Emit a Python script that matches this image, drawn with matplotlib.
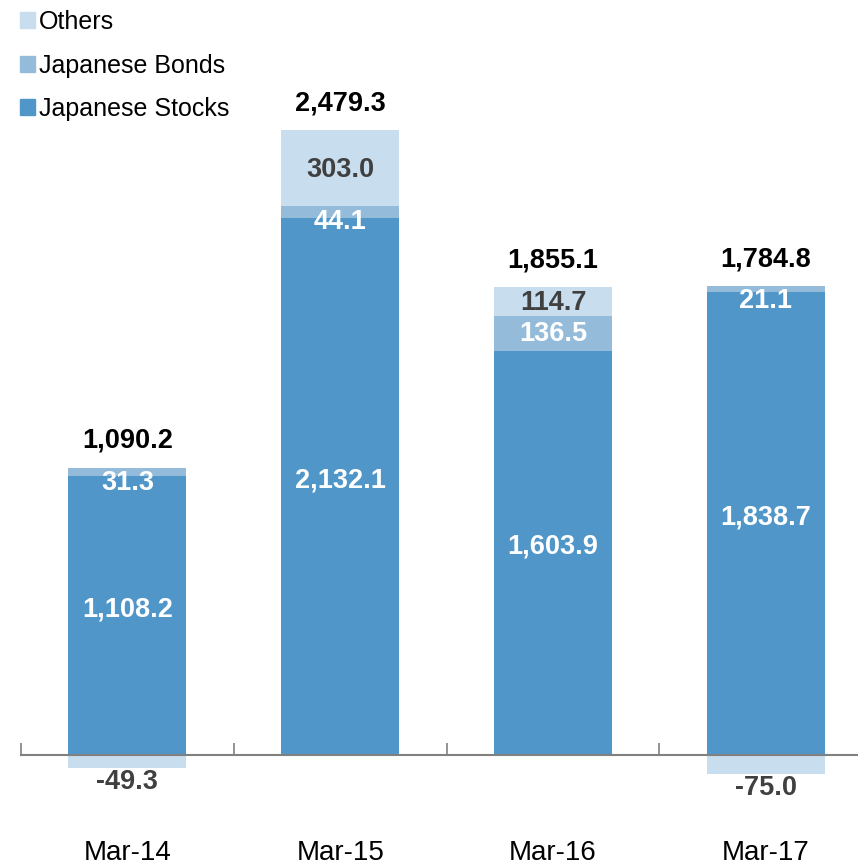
import numpy as np
import matplotlib.pyplot as plt
from matplotlib.patches import Patch

plt.rcParams['font.family'] = ['Liberation Sans', 'DejaVu Sans']

# DATA

periods = ['Mar-14', 'Mar-15', 'Mar-16', 'Mar-17']
stocks = np.array([1108.2, 2132.1, 1603.9, 1838.7])
bonds = np.array([31.3, 44.1, 136.5, 21.1])
others = np.array([-49.3, 303.0, 114.7, -75.0])
totals = ['1,090.2', '2,479.3', '1,855.1', '1,784.8']

c_stocks = '#5096C8'
c_bonds = '#94BCDA'
c_others = '#C8DDED'

# PLOT

fig = plt.figure(figsize=(8.58, 8.66), dpi=100)
ax = fig.add_axes([21 / 858, 0, 1 - 21 / 858, 1])

x = np.arange(len(periods))
w = 0.555

ax.bar(x, stocks, w, color=c_stocks, label='Japanese Stocks')
ax.bar(x, bonds, w, bottom=stocks, color=c_bonds, label='Japanese Bonds')
# others sit on top when positive, below zero when negative
oth_bottom = np.where(others > 0, stocks + bonds, 0)
ax.bar(x, others, w, bottom=oth_bottom, color=c_others, label='Others')

lab = dict(fontsize=19.5, fontweight='bold', ha='center')

for i in range(len(x)):
    # stocks
    ax.text(x[i], stocks[i] / 2 + 24, f'{stocks[i]:,.1f}', color='white', va='center', **lab)
    # bonds (small ones get pushed below the segment top)
    top = stocks[i] + bonds[i]
    yb = min(stocks[i] + bonds[i] / 2, top - 60)
    ax.text(x[i], yb, f'{bonds[i]:,.1f}', color='white', va='center', **lab)
    # others
    if others[i] > 0:
        ax.text(x[i], oth_bottom[i] + others[i] / 2 - 6, f'{others[i]:,.1f}',
                color='#404040', va='center', **lab)
        pos_top = oth_bottom[i] + others[i]
    else:
        ax.text(x[i], others[i] - 5, f'{others[i]:,.1f}', color='#404040', va='top', **lab)
        pos_top = top
    # total
    ax.annotate(totals[i], (x[i], pos_top), xytext=(0, 10), textcoords='offset points',
                va='bottom', color='black', **lab)

ax.set_xlim(-0.5, 3.433)
ax.set_ylim(-440, 2995)

for s in ['top', 'right', 'left']:
    ax.spines[s].set_visible(False)
ax.spines['bottom'].set_position(('data', 0))
ax.spines['bottom'].set_color('#808080')
ax.spines['bottom'].set_linewidth(1.5)
ax.set_yticks([])

ax.set_xticks(x)
ax.set_xticklabels(periods, fontsize=20)
ax.set_xticks(np.arange(-0.5, 3.0, 1.0), minor=True)
ax.tick_params(axis='x', which='major', length=0, pad=61)
ax.tick_params(axis='x', which='minor', direction='in', length=9, width=1.2, color='#808080')

handles = [Patch(color=c_others), Patch(color=c_bonds), Patch(color=c_stocks)]
labels = ['Others', 'Japanese Bonds', 'Japanese Stocks']
fig.legend(handles, labels, loc='upper left', bbox_to_anchor=(0.012, 1.0),
           frameon=False, fontsize=18, handlelength=0.6, handleheight=0.6,
           handletextpad=0.15, labelspacing=0.78, borderaxespad=0)

fig.savefig('out.png', dpi=100)
